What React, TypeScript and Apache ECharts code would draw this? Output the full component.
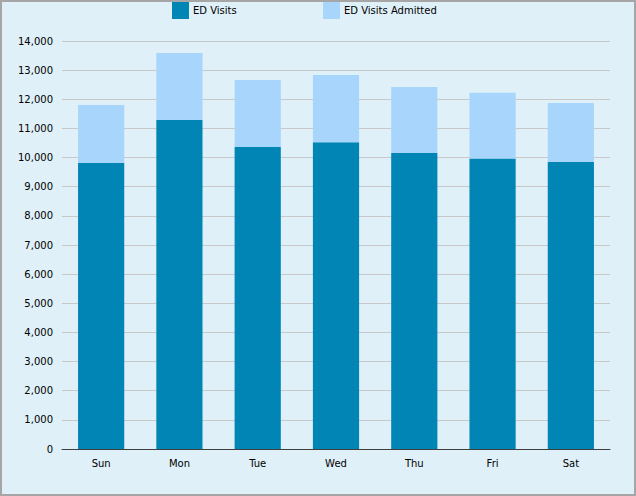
import React, { useEffect, useRef } from "react";
import * as echarts from "echarts";

const categories = ["Sun", "Mon", "Tue", "Wed", "Thu", "Fri", "Sat"];
const edVisits = [9815, 11290, 10360, 10530, 10160, 9970, 9850];
const edVisitsAdmitted = [1985, 2300, 2300, 2300, 2260, 2250, 2020];
const yTicks = [0, 14000, 1000];

const FONT = "DejaVu Sans";

export default function App() {
  const ref = useRef<HTMLDivElement>(null);
  useEffect(() => {
    if (!ref.current) return;
    const chart = echarts.init(ref.current, null, { renderer: "svg" });
    chart.setOption({
      animation: false,
      backgroundColor: "#DFF0F8",
      textStyle: { fontFamily: FONT },
      legend: [
        {
          data: ["ED Visits"],
          left: 172,
          top: 2,
          itemWidth: 17,
          itemHeight: 17,
          itemGap: 5,
          icon: "rect",
          textStyle: { fontFamily: FONT, fontSize: 10, color: "#000", padding: [0, 0, 0, -1] },
          padding: 0,
        },
        {
          data: ["ED Visits Admitted"],
          left: 323,
          top: 2,
          itemWidth: 17,
          itemHeight: 17,
          icon: "rect",
          textStyle: { fontFamily: FONT, fontSize: 10, color: "#000", padding: [0, 0, 0, -1] },
          padding: 0,
        },
      ],
      grid: { left: 62, right: 26, top: 41, bottom: 47 },
      xAxis: {
        type: "category",
        data: categories,
        axisLine: { lineStyle: { color: "#3F3F3F", width: 1 } },
        axisTick: { alignWithLabel: true, length: 3, lineStyle: { color: "#C0C0C0" } },
        axisLabel: { fontFamily: FONT, fontSize: 10, color: "#000", margin: 9 },
      },
      yAxis: {
        type: "value",
        min: yTicks[0],
        max: yTicks[1],
        interval: yTicks[2],
        axisLine: { show: false },
        axisTick: { show: false },
        splitLine: { lineStyle: { color: "#C8C8C8", width: 1 } },
        axisLabel: {
          fontFamily: FONT,
          fontSize: 10,
          color: "#000",
          margin: 9,
          formatter: (v: number) => v.toLocaleString("en-US"),
        },
      },
      series: [
        {
          name: "ED Visits",
          type: "bar",
          stack: "total",
          data: edVisits,
          barWidth: "59%",
          itemStyle: { color: "#0085B5" },
        },
        {
          name: "ED Visits Admitted",
          type: "bar",
          stack: "total",
          data: edVisitsAdmitted,
          barWidth: "59%",
          itemStyle: { color: "#A8D5FB" },
        },
      ],
      graphic: [
        {
          type: "rect",
          shape: { x: 1, y: 1, width: 634, height: 494 },
          style: { fill: "none", stroke: "#A6A6A6", lineWidth: 2 },
          z: 100,
          silent: true,
        },
      ],
    });
    return () => chart.dispose();
  }, []);
  return (
    <div
      ref={ref}
      style={{ position: "fixed", left: 0, top: 0, width: 636, height: 496 }}
    />
  );
}
